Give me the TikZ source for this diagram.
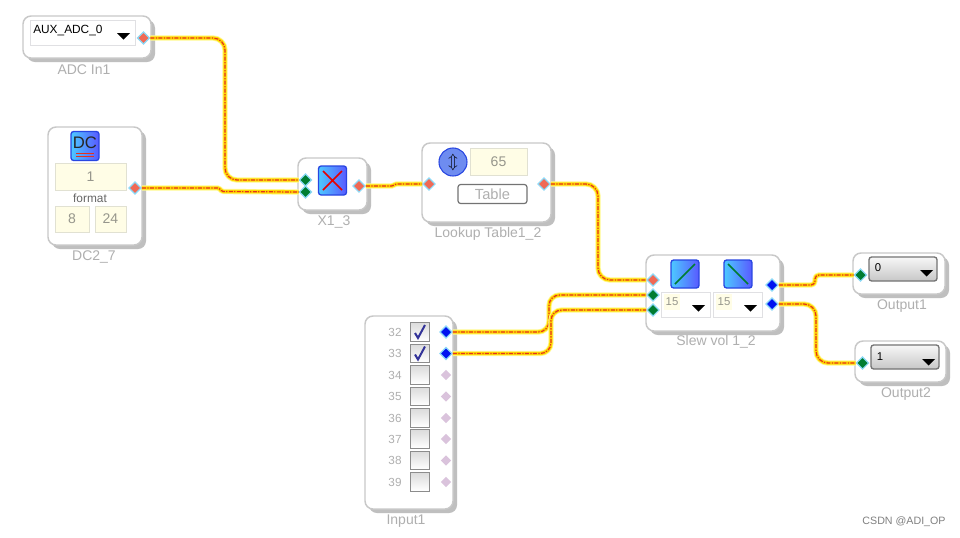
\documentclass[tikz,border=0pt]{standalone}
\usepackage{xcolor}
\usepackage{fontspec}
\setmainfont{Liberation Sans}
\usetikzlibrary{shapes.geometric, shadows, positioning}
\definecolor{blockedge}{RGB}{200,200,200}
\definecolor{fieldfill}{RGB}{255,253,230}
\definecolor{fieldedge}{RGB}{225,225,210}
\definecolor{labelgray}{RGB}{175,175,175}
\definecolor{valuegray}{RGB}{150,150,140}
\definecolor{wireyellow}{RGB}{255,214,0}
\definecolor{wirered}{RGB}{228,50,30}
\definecolor{pinred}{RGB}{240,105,85}
\definecolor{pingreen}{RGB}{0,125,50}
\definecolor{pinblue}{RGB}{0,20,240}
\definecolor{pinidle}{RGB}{218,195,220}
\definecolor{iconblue}{RGB}{40,70,225}
\definecolor{knobblue}{RGB}{110,140,240}
\tikzset{
    size/.style 2 args={minimum width=#1*0.75pt, minimum height=#2*0.75pt},
    blockbox/.style={draw=blockedge, line width=1.1pt, fill=white, rectangle, rounded corners=6pt, inner sep=0pt,
        drop shadow={shadow xshift=3pt, shadow yshift=-3pt, fill=black!25, opacity=1}},
    fieldbox/.style={draw=fieldedge, fill=fieldfill, rectangle, inner sep=0pt, text=valuegray, font=\fontsize{10.5}{12}\selectfont},
    combobox/.style={draw=blue!10!black!12, fill=white, rectangle, inner sep=0pt, text=black, font=\fontsize{8.9}{10}\selectfont},
    darkcombo/.style={draw=black!55, line width=1pt, rectangle, rounded corners=2pt, inner sep=0pt, top color=black!3, bottom color=black!22, text=black, font=\fontsize{8}{10}\selectfont},
    iconbox/.style={draw=iconblue, line width=1pt, rectangle, rounded corners=2pt, inner sep=0pt, left color=cyan!70!blue!70, right color=blue!65},
    blocklabel/.style={text=labelgray, inner sep=0pt, font=\fontsize{10.5}{12}\selectfont},
    checkbox/.style={draw=black!45, line width=1pt, rectangle, inner sep=0pt, top color=black!14, bottom color=white, minimum size=13.8pt},
    pinbox/.style={diamond, inner sep=0pt, minimum size=9.5pt, draw=cyan!45, line width=.9pt},
    redpin/.style={pinbox, fill=pinred},
    greenpin/.style={pinbox, fill=pingreen},
    bluepin/.style={pinbox, fill=pinblue},
    idlepin/.style={diamond, inner sep=0pt, minimum size=8pt, fill=pinidle},
    wire/.style={draw=wireyellow, line width=2.6pt, line join=round,
        preaction={draw=yellow!45, line width=4pt, line join=round},
        postaction={draw=wirered, line width=.9pt, dash pattern=on 3pt off 1pt on 1pt off 1pt}},
}
\newcommand{\dropTip}[2]{\fill (#1,#2) -- ++(13,0) -- ++(-6.5,6.5) -- cycle;}
\begin{document}
\begin{tikzpicture}[x=0.75pt, y=-0.75pt]
    \useasboundingbox (0,0) rectangle (960,537);
    \fill[white] (0,0) rectangle (960,537);
    % ADC input
    \node[blockbox, size={128}{42}] (adcBlock) at (87,37) {};
    \node[combobox, size={105}{25}] (adcCombo) at (82.5,32.5) {};
    \node[inner sep=0pt, anchor=west, font=\fontsize{8.9}{10}\selectfont] (adcText) at (33,30.5) {AUX\_ADC\_0};
    \dropTip{117}{33}
    \node[redpin] (adcPin) at (143.5,38) {};
    \node[blocklabel] (adcLabel) at (84,70) {ADC In1};
    % DC source
    \node[blockbox, size={94}{118}] (dcBlock) at (95,186) {};
    \node[iconbox, size={28}{29}] (dcIcon) at (85,146) {};
    \node[inner sep=0pt, font=\fontsize{12.5}{14}\selectfont, text=black!85] (dcText) at (85,143) {DC};
    \draw[wirered, line width=.7pt] (76,153) -- (94,153) (76,156) -- (94,156);
    \node[fieldbox, size={71}{27}] (dcValue) at (90.5,177) {1};
    \node[inner sep=0pt, text=black!60, font=\fontsize{8.9}{10}\selectfont] (dcFormat) at (90,198) {format};
    \node[fieldbox, size={34}{26}] (dcLeft) at (72,219) {8};
    \node[fieldbox, size={31}{26}] (dcRight) at (110.5,219) {24};
    \node[redpin] (dcPin) at (135,188) {};
    \node[blocklabel] (dcLabel) at (94,257) {DC2\_7};
    % multiplier
    \node[blockbox, size={69}{52}] (mulBlock) at (332.5,184) {};
    \node[iconbox, size={28}{29}] (mulIcon) at (332.5,180.5) {};
    \draw[red!90!black, line width=1.3pt] (323,171) -- (342,190) (342,171) -- (323,190);
    \node[greenpin] (mulInA) at (305.5,180) {};
    \node[greenpin] (mulInB) at (305.5,192) {};
    \node[redpin] (mulOut) at (359,186) {};
    \node[blocklabel] (mulLabel) at (334,222) {X1\_3};
    % lookup table
    \node[blockbox, size={129}{79}] (lutBlock) at (486.5,182.5) {};
    \node[circle, draw=iconblue, line width=.8pt, fill=knobblue, minimum size=21pt, inner sep=0pt] (lutKnob) at (453,162) {};
    \node[inner sep=0pt, text=black, font=\fontsize{13}{13}\selectfont] (lutArrow) at (453,162) {$\Updownarrow$};
    \node[fieldbox, size={57}{27}] (lutValue) at (498.5,161.5) {65};
    \node[draw=black!55, line width=.9pt, rectangle, rounded corners=2pt, inner sep=0pt, size={69}{19}, text=labelgray, font=\fontsize{11}{12}\selectfont] (lutTable) at (492.5,194) {Table};
    \node[redpin] (lutIn) at (429,184) {};
    \node[redpin] (lutOut) at (544,184) {};
    \node[blocklabel] (lutLabel) at (488,234) {Lookup Table1\_2};
    % slew
    \node[blockbox, size={134}{76}] (slewBlock) at (713,293) {};
    \node[iconbox, size={28}{28}] (slewUp) at (685,274) {};
    \node[iconbox, size={28}{28}] (slewDown) at (738,274) {};
    \draw[pingreen, line width=1.3pt] (675,284) -- (695,264);
    \draw[pingreen, line width=1.3pt] (728,264) -- (748,284);
    \node[combobox, size={49}{25}] (slewComboA) at (685.5,304.5) {};
    \node[combobox, size={49}{25}] (slewComboB) at (737.5,304.5) {};
    \node[fieldbox, draw=none, size={16}{16}, font=\fontsize{8.5}{10}\selectfont] (slewValA) at (672,302) {15};
    \node[fieldbox, draw=none, size={16}{16}, font=\fontsize{8.5}{10}\selectfont] (slewValB) at (724,302) {15};
    \dropTip{692}{305}
    \dropTip{744}{305}
    \node[redpin] (slewInA) at (653,280) {};
    \node[greenpin] (slewInB) at (653,295) {};
    \node[greenpin] (slewInC) at (653,310) {};
    \node[bluepin] (slewOutA) at (772,285) {};
    \node[bluepin] (slewOutB) at (772,304) {};
    \node[blocklabel] (slewLabel) at (716,342) {Slew vol 1\_2};
    % outputs
    \node[blockbox, size={92}{41}] (outBlockA) at (899,273.5) {};
    \node[darkcombo, size={68}{24}] (outComboA) at (903,269) {};
    \node[inner sep=0pt, font=\fontsize{8.5}{10}\selectfont] (outValA) at (878,268) {0};
    \dropTip{920}{270}
    \node[greenpin] (outPinA) at (860.5,275) {};
    \node[blocklabel] (outLabelA) at (902,306) {Output1};
    \node[blockbox, size={91}{41}] (outBlockB) at (900.5,361.5) {};
    \node[darkcombo, size={68}{24}] (outComboB) at (905,357) {};
    \node[inner sep=0pt, font=\fontsize{8.5}{10}\selectfont] (outValB) at (880,357) {1};
    \dropTip{922}{359}
    \node[greenpin] (outPinB) at (862.5,363) {};
    \node[blocklabel] (outLabelB) at (906,394) {Output2};
    % input bank
    \node[blockbox, size={88}{193}] (inBlock) at (409,412.5) {};
    \foreach \i/\num/\py in {0/32/332,1/33/353.5,2/34/375,3/35/396.5,4/36/418,5/37/439,6/38/460.5,7/39/482} {
        \node[inner sep=0pt, text=labelgray, font=\fontsize{8.8}{10}\selectfont] (inNum\i) at (395,\py) {\num};
        \node[checkbox] (inCheck\i) at (420,\py) {};
    }
    \foreach \i/\py in {2/375,3/396.5,4/418,5/439,6/460.5,7/482}
        \node[idlepin] (inPin\i) at (446,\py) {};
    \node[bluepin] (inPin0) at (446,332) {};
    \node[bluepin] (inPin1) at (446,353.5) {};
    \draw[blue!50!black!80, line width=1.5pt] (415,333) -- (418,338) -- (425,325);
    \draw[blue!50!black!80, line width=1.5pt] (415,354.5) -- (418,359.5) -- (425,346.5);
    \node[blocklabel] (inLabel) at (406,521) {Input1};
    % wires
    \draw[wire, rounded corners=9pt] (adcPin.east) -- (225,38) -- (225,180) -- (mulInA.west);
    \draw[wire, rounded corners=1pt] (dcPin.east) -- (219,188) -- (222,191.5) -- (mulInB.west);
    \draw[wire, rounded corners=1pt] (mulOut.east) -- (393,186) -- (395,184) -- (lutIn.west);
    \draw[wire, rounded corners=9pt] (lutOut.east) -- (598,184) -- (598,280) -- (slewInA.west);
    \draw[wire, rounded corners=8pt] (inPin0.east) -- (549,332) -- (549,295) -- (slewInB.west);
    \draw[wire, rounded corners=8pt] (inPin1.east) -- (551,353.5) -- (551,310) -- (slewInC.west);
    \draw[wire, rounded corners=3pt] (slewOutA.east) -- (815,285) -- (815,275) -- (outPinA.west);
    \draw[wire, rounded corners=9pt] (slewOutB.east) -- (816,304) -- (816,363) -- (outPinB.west);
    % watermark
    \node[inner sep=0pt, text=black!50, font=\fontsize{8}{9}\selectfont] (markText) at (904,522) {CSDN @ADI\_OP};
\end{tikzpicture}
\end{document}
